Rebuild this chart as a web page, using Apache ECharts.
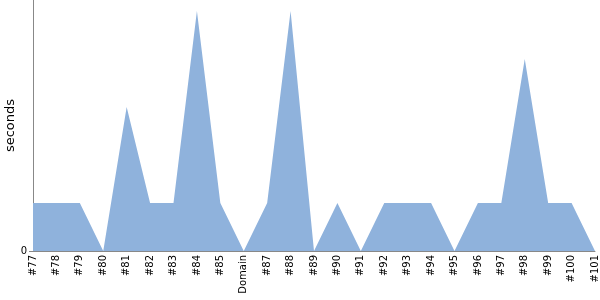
<!DOCTYPE html>
<html><head><meta charset="utf-8">
<script src="https://cdn.jsdelivr.net/npm/echarts@6/dist/echarts.min.js"></script>
<style>html,body{margin:0;padding:0;background:#fff}#c{width:600px;height:300px}</style>
</head><body><div id="c"></div>
<script>
const categories = ['#77','#78','#79','#80','#81','#82','#83','#84','#85','Domain','#87','#88','#89','#90','#91','#92','#93','#94','#95','#96','#97','#98','#99','#100','#101'];
const seconds = [1,1,1,0,3,1,1,5,1,0,1,5,0,1,0,1,1,1,0,1,1,4,1,1,0];
const yTickValues = [0];
const chart = echarts.init(document.getElementById('c'), null, {renderer:'canvas'});
chart.setOption({
  animation:false,
  grid:{left:33, right:5, top:0, bottom:49, containLabel:false, outerBoundsMode:'none'},
  xAxis:{type:'category', data:categories, boundaryGap:false,
    axisLine:{lineStyle:{color:'#888', width:1}},
    axisTick:{show:false},
    axisLabel:{rotate:90, interval:0, fontFamily:'DejaVu Sans', fontSize:10, color:'#000', margin:4}},
  yAxis:{type:'value', min:0, max:5.23,
    name:'seconds', nameLocation:'middle', nameGap:16, nameRotate:90, nameMoveOverlap:false,
    nameTextStyle:{fontFamily:'DejaVu Sans', fontSize:13, color:'#000'},
    splitLine:{show:false},
    axisLine:{show:true, lineStyle:{color:'#888'}},
    axisTick:{show:true, length:4, lineStyle:{color:'#888'}, customValues:yTickValues},
    axisLabel:{fontFamily:'DejaVu Sans', fontSize:10, color:'#000', margin:6, customValues:yTickValues}},
  series:[{type:'line', data:seconds, symbol:'none',
    lineStyle:{width:0, color:'#8fb2dc'},
    areaStyle:{color:'#8fb2dc', opacity:1}}]
});
</script></body></html>
